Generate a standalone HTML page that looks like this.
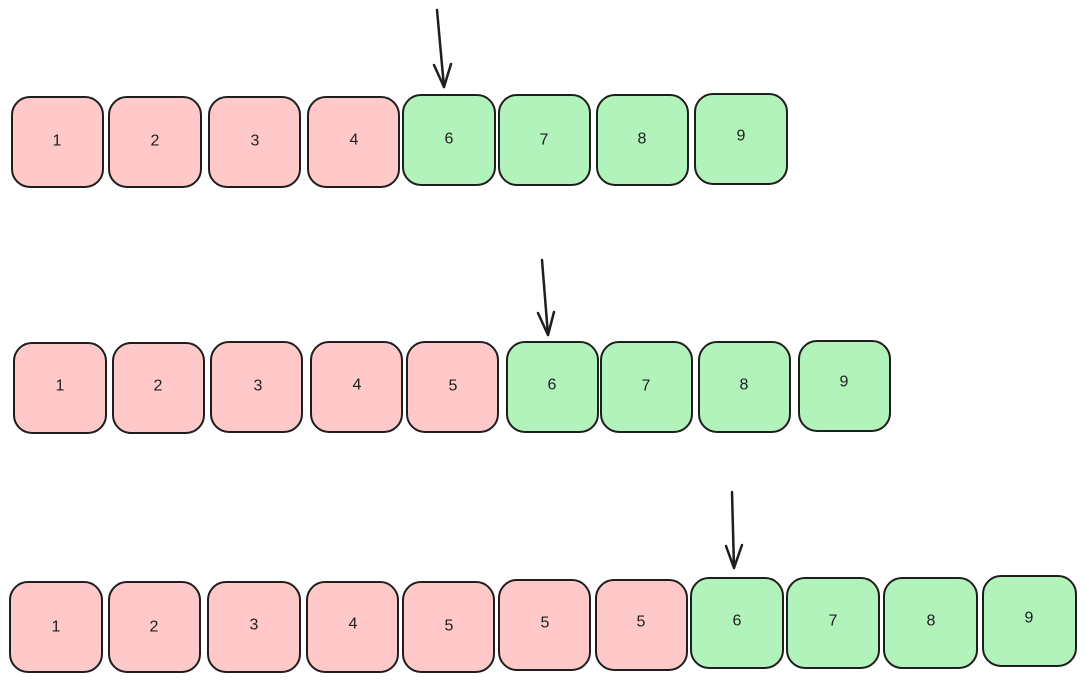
<!DOCTYPE html>
<html><head><meta charset="utf-8"><style>
html,body{margin:0;padding:0;background:#fff;width:1086px;height:682px;overflow:hidden}
text{font-family:"Liberation Sans",sans-serif;font-size:16px;fill:#1e1e1e;text-anchor:middle;dominant-baseline:central}
rect{stroke:#1e1e1e;stroke-width:2}
.p{fill:#ffc9c9}.g{fill:#b2f2bb}
</style></head><body>
<svg width="1086" height="682" viewBox="0 0 1086 682" xmlns="http://www.w3.org/2000/svg">
<!-- Row 1 -->
<g>
<rect class="p" x="12" y="97" width="91" height="90" rx="18"/><text x="57" y="141">1</text>
<rect class="p" x="109" y="97" width="92" height="90" rx="18"/><text x="155" y="141">2</text>
<rect class="p" x="209" y="97" width="91" height="90" rx="18"/><text x="255" y="141">3</text>
<rect class="p" x="308" y="97" width="91" height="90" rx="18"/><text x="354" y="140">4</text>
<rect class="g" x="403" y="95" width="92" height="90" rx="18"/><text x="449" y="139">6</text>
<rect class="g" x="499" y="95" width="91" height="90" rx="18"/><text x="544" y="140">7</text>
<rect class="g" x="597" y="95" width="91" height="90" rx="18"/><text x="642" y="139">8</text>
<rect class="g" x="695" y="94" width="92" height="90" rx="18"/><text x="741" y="136">9</text>
</g>
<!-- Row 2 -->
<g>
<rect class="p" x="14" y="343" width="92" height="90" rx="18"/><text x="60" y="386">1</text>
<rect class="p" x="113" y="343" width="91" height="90" rx="18"/><text x="158" y="386">2</text>
<rect class="p" x="211" y="342" width="91" height="90" rx="18"/><text x="258" y="386">3</text>
<rect class="p" x="311" y="342" width="91" height="90" rx="18"/><text x="357" y="385">4</text>
<rect class="p" x="407" y="342" width="91" height="90" rx="18"/><text x="453" y="386">5</text>
<rect class="g" x="507" y="342" width="91" height="90" rx="18"/><text x="552" y="385">6</text>
<rect class="g" x="601" y="342" width="91" height="90" rx="18"/><text x="646" y="386">7</text>
<rect class="g" x="699" y="342" width="91" height="90" rx="18"/><text x="744" y="385">8</text>
<rect class="g" x="799" y="341" width="91" height="90" rx="18"/><text x="844" y="382">9</text>
</g>
<!-- Row 3 -->
<g>
<rect class="p" x="10" y="582" width="92" height="90" rx="18"/><text x="56" y="627">1</text>
<rect class="p" x="109" y="582" width="91" height="90" rx="18"/><text x="154" y="627">2</text>
<rect class="p" x="208" y="582" width="92" height="90" rx="18"/><text x="254" y="625">3</text>
<rect class="p" x="307" y="582" width="91" height="90" rx="18"/><text x="353" y="624">4</text>
<rect class="p" x="403" y="582" width="91" height="90" rx="18"/><text x="449" y="626">5</text>
<rect class="p" x="499" y="580" width="91" height="90" rx="18"/><text x="545" y="623">5</text>
<rect class="p" x="596" y="580" width="91" height="90" rx="18"/><text x="641" y="622">5</text>
<rect class="g" x="691" y="578" width="92" height="90" rx="18"/><text x="737" y="621">6</text>
<rect class="g" x="787" y="578" width="92" height="90" rx="18"/><text x="833" y="621">7</text>
<rect class="g" x="884" y="578" width="93" height="90" rx="18"/><text x="931" y="621">8</text>
<rect class="g" x="983" y="576" width="93" height="90" rx="18"/><text x="1029" y="618">9</text>
</g>
<!-- Arrows -->
<g stroke="#1e1e1e" stroke-width="2.5" fill="none" stroke-linecap="round" stroke-linejoin="round">
<path d="M437 10 L444 87"/><path d="M434 65 L444 87 L451 64"/>
<path d="M542 260 L548 335"/><path d="M538 313 L548 335 L554 312"/>
<path d="M732 492 L734 568"/><path d="M726 546 L734 568 L742 545"/>
</g>
</svg>
</body></html>
